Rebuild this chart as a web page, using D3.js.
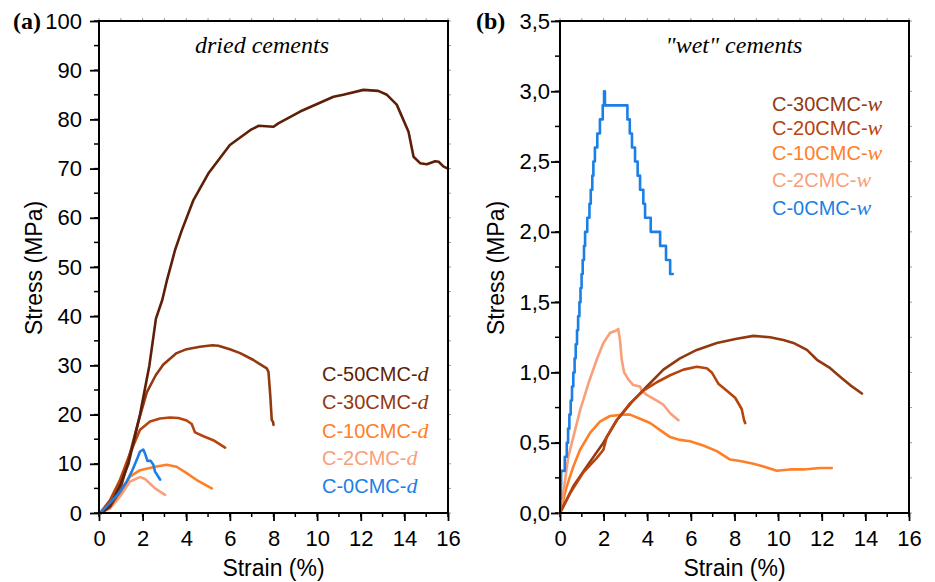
<!DOCTYPE html>
<html>
<head>
<meta charset="utf-8">
<script src="https://cdn.jsdelivr.net/npm/d3@7"></script>
<style>
  body { margin: 0; background: #fff; }
  text { font-family: "Liberation Sans", Arial, sans-serif; }
</style>
</head>
<body>
<svg width="935" height="582"></svg>
<script>
// strain (%) vs stress (MPa)
var dried50 = [[0.1,0],[0.5,1.5],[1.0,6],[1.35,10],[1.88,20],[2.31,30],[2.5,36],[2.61,39.5],[2.9,43.3],[3.12,47.4],[3.49,53.5],[3.8,57.5],[4.33,63.6],[5.01,69.0],[6.0,74.8],[6.93,77.8],[7.31,78.7],[8.0,78.5],[8.22,79.2],[9.22,81.6],[10.75,84.6],[11.2,85.0],[12.12,86.0],[12.8,85.8],[13.2,85.0],[13.65,83.0],[14.19,77.5],[14.42,72.4],[14.72,71.1],[15.03,70.9],[15.41,71.5],[15.57,71.4],[15.8,70.4],[16.0,70.0]];
var dried30 = [[0.1,0],[0.5,1.2],[0.96,4.5],[1.24,9],[1.77,18],[2.19,24.5],[2.6,28],[2.95,30.2],[3.56,32.5],[4.02,33.3],[4.63,33.8],[5.2,34.1],[5.47,34.0],[6.0,33.3],[6.47,32.5],[7.08,31.1],[7.69,29.4],[7.77,28.7],[7.85,24],[7.92,18.9],[7.98,18.5],[8.0,17.9]];
var dried20 = [[0.05,0],[0.5,2.6],[0.96,6.7],[1.42,12.1],[1.88,16.9],[2.34,18.6],[2.8,19.2],[3.26,19.4],[3.64,19.3],[4.02,18.8],[4.25,18.1],[4.4,16.4],[4.79,15.6],[5.24,14.8],[5.78,13.3]];
var dried10 = [[0.05,0],[0.5,1.3],[0.96,4.0],[1.42,7.4],[1.88,8.7],[2.57,9.4],[3.1,9.8],[3.56,9.4],[4.02,8.1],[4.48,6.7],[5.17,5.0]];
var dried2 = [[0.05,0],[0.5,0.9],[0.96,3.3],[1.42,6.4],[1.88,7.3],[2.11,6.9],[2.57,5.0],[3.03,3.7]];
var dried0 = [[0.05,0],[0.5,2.0],[0.96,4.3],[1.27,6.4],[1.5,8.4],[1.73,10.8],[1.88,12.5],[2.03,12.9],[2.11,12.1],[2.22,10.6],[2.37,10.6],[2.49,9.8],[2.57,8.4],[2.8,6.8]];

var wet30 = [[0,0],[0.61,0.19],[1.22,0.33],[1.99,0.5],[2.6,0.66],[3.3,0.79],[3.98,0.9],[4.74,1.02],[5.5,1.1],[6.27,1.16],[7.19,1.21],[8.1,1.24],[8.87,1.26],[9.63,1.25],[10.24,1.23],[10.7,1.21],[11.32,1.16],[11.78,1.09],[12.39,1.03],[12.84,0.97],[13.3,0.91],[13.84,0.85]];
var wet20 = [[0,0],[0.46,0.14],[1.07,0.29],[1.68,0.39],[1.99,0.45],[2.14,0.54],[2.6,0.66],[3.21,0.78],[3.82,0.87],[4.44,0.93],[5.05,0.98],[5.66,1.02],[6.27,1.04],[6.73,1.03],[6.96,1.0],[7.26,0.92],[7.65,0.87],[8.03,0.82],[8.33,0.74],[8.44,0.66],[8.49,0.64]];
var wet10 = [[0,0],[0.31,0.19],[0.61,0.33],[0.92,0.45],[1.38,0.57],[1.83,0.65],[2.29,0.69],[2.9,0.7],[3.21,0.7],[3.67,0.67],[4.13,0.64],[4.59,0.59],[5.05,0.54],[5.5,0.52],[5.96,0.51],[6.57,0.48],[7.19,0.44],[7.8,0.38],[8.26,0.37],[8.87,0.35],[9.33,0.33],[9.94,0.3],[10.55,0.31],[11.16,0.31],[11.93,0.32],[12.46,0.32]];
var wet2 = [[0.03,0.02],[0.23,0.23],[0.38,0.4],[0.61,0.54],[0.92,0.73],[1.3,0.92],[1.68,1.09],[1.99,1.21],[2.29,1.28],[2.6,1.3],[2.67,1.31],[2.75,1.23],[2.83,1.09],[2.94,1.0],[3.13,0.95],[3.36,0.91],[3.67,0.9],[3.75,0.87],[3.98,0.84],[4.44,0.8],[4.74,0.77],[5.05,0.71],[5.43,0.66]];
// C-0CMC-w is recorded in 0.1 MPa steps
var wet0 = [[0,0],[0.02,0.1],[0.04,0.2],[0.05,0.3],[0.22,0.4],[0.31,0.5],[0.37,0.6],[0.43,0.7],[0.49,0.8],[0.55,0.9],[0.61,1.0],[0.67,1.1],[0.72,1.2],[0.78,1.3],[0.83,1.4],[0.89,1.5],[0.94,1.6],[0.99,1.7],[1.04,1.8],[1.1,1.9],[1.15,2.0],[1.25,2.1],[1.35,2.2],[1.41,2.3],[1.48,2.4],[1.53,2.5],[1.6,2.6],[1.71,2.7],[1.83,2.8],[1.96,2.9],[2.02,3.0],[2.06,2.9],[3.09,2.8],[3.2,2.7],[3.3,2.6],[3.44,2.5],[3.56,2.4],[3.67,2.3],[3.82,2.2],[3.9,2.1],[4.16,2.0],[4.59,1.9],[4.86,1.8],[5.05,1.7],[5.17,1.7]];

var driedNames = ["C-50CMC-", "C-30CMC-", "C-10CMC-", "C-2CMC-", "C-0CMC-"];
var wetNames = ["C-30CMC-", "C-20CMC-", "C-10CMC-", "C-2CMC-", "C-0CMC-"];

var xTicks = [0, 2, 4, 6, 8, 10, 12, 14, 16];
var driedYTicks = [0, 10, 20, 30, 40, 50, 60, 70, 80, 90, 100];
var wetYTicks = [0, 0.5, 1.0, 1.5, 2.0, 2.5, 3.0, 3.5];

var c50 = "#5e1f08", c30 = "#93390f", c20 = "#b8440d", c10 = "#ff7f27", c2 = "#f9a07a", c0 = "#1c7fe6";

var svg = d3.select("svg");
var fmt = d3.format(".1f");

function panel(opt) {
  var x = d3.scaleLinear().domain([0, 16]).range([opt.left, opt.right]);
  var y = d3.scaleLinear().domain([0, opt.ymax]).range([513, 21]);
  var g = svg.append("g");

  // minor ticks
  var minorX = d3.range(0, 17, 1);
  var minorY = d3.range(0, opt.ymax + opt.ystep / 4, opt.ystep / 2);
  g.selectAll(".mx").data(minorX).enter().append("line")
    .attr("x1", x).attr("x2", x).attr("y1", 513).attr("y2", 517)
    .attr("stroke", "#000").attr("stroke-width", 1.5);
  g.selectAll(".my").data(minorY).enter().append("line")
    .attr("y1", y).attr("y2", y).attr("x1", opt.left - 5).attr("x2", opt.left)
    .attr("stroke", "#000").attr("stroke-width", 1.5);
  // faint ticks on top and right
  g.selectAll(".tx").data(minorX).enter().append("line")
    .attr("x1", x).attr("x2", x).attr("y1", 21).attr("y2", 18)
    .attr("stroke", "#999").attr("stroke-width", 1);
  g.selectAll(".ry").data(minorY).enter().append("line")
    .attr("y1", y).attr("y2", y).attr("x1", opt.right).attr("x2", opt.right + 3)
    .attr("stroke", "#999").attr("stroke-width", 1);

  var xAxis = g.append("g").attr("transform", "translate(0,513)")
    .call(d3.axisBottom(x).tickValues(xTicks).tickSize(8).tickPadding(9).tickFormat(d3.format("d")));
  var yAxis = g.append("g").attr("transform", "translate(" + opt.left + ",0)")
    .call(d3.axisLeft(y).tickValues(opt.yticks).tickSize(9).tickPadding(opt.ypad).tickFormat(opt.yfmt));
  [xAxis, yAxis].forEach(function (a) {
    a.select(".domain").remove();
    a.selectAll("line").attr("stroke-width", 1.8);
    a.selectAll("text").style("font-size", "22px").attr("fill", "#000");
  });

  // curves
  var line = d3.line().x(function (d) { return x(d[0]); }).y(function (d) { return y(d[1]); });
  opt.series.forEach(function (s) {
    g.append("path").datum(s.data)
      .attr("d", line.curve(s.step ? d3.curveStepAfter : d3.curveLinear))
      .attr("fill", "none").attr("stroke", s.color).attr("stroke-width", 2.6)
      .attr("stroke-linejoin", "round").attr("stroke-linecap", "round");
  });

  // frame
  g.append("rect").attr("x", opt.left).attr("y", 21)
    .attr("width", opt.right - opt.left).attr("height", 492)
    .attr("fill", "none").attr("stroke", "#000").attr("stroke-width", 2);

  // labels
  g.append("text").attr("x", (opt.left + opt.right) / 2).attr("y", 576)
    .attr("text-anchor", "middle").style("font-size", "23px").text("Strain (%)");
  g.append("text").attr("transform", "translate(" + opt.ylabX + ",268) rotate(-90)")
    .attr("text-anchor", "middle").style("font-size", "23px").text("Stress (MPa)");
  g.append("text").attr("x", opt.titleX).attr("y", 53).attr("text-anchor", "middle")
    .style("font-family", "'Liberation Serif', serif").style("font-style", "italic")
    .style("font-size", "24px").text(opt.title);
  g.append("text").attr("x", opt.tagX).attr("y", 29)
    .style("font-family", "'Liberation Serif', serif").style("font-weight", "bold")
    .style("font-size", "24px").text(opt.tag);

  // legend
  var leg = g.selectAll(".leg").data(opt.legend).enter().append("text")
    .attr("x", opt.legX).attr("y", function (d, i) { return opt.legY[i]; })
    .attr("fill", function (d) { return d.color; })
    .style("font-size", "20px");
  leg.append("tspan").text(function (d) { return d.name; });
  leg.append("tspan").style("font-family", "'Liberation Serif', serif")
    .style("font-style", "italic").style("font-size", "22px").text(opt.suffix);
}

panel({
  left: 99, right: 448, ymax: 100, ystep: 10, yticks: driedYTicks, ypad: 8,
  yfmt: d3.format("d"), ylabX: 42, title: "dried cements", titleX: 262,
  tag: "(a)", tagX: 13, suffix: "d",
  series: [
    { data: dried2, color: c2 }, { data: dried10, color: c10 }, { data: dried20, color: c20 },
    { data: dried30, color: c30 }, { data: dried50, color: c50 }, { data: dried0, color: c0 }
  ],
  legX: 322, legY: [381, 409, 438, 465, 493],
  legend: driedNames.map(function (n, i) { return { name: n, color: [c50, c30, c10, c2, c0][i] }; })
});

panel({
  left: 560, right: 909, ymax: 3.5, ystep: 0.5, yticks: wetYTicks, ypad: 1,
  yfmt: function (d) { return fmt(d).replace(".", ","); }, ylabX: 504, title: "\"wet\" cements", titleX: 734,
  tag: "(b)", tagX: 476, suffix: "w",
  series: [
    { data: wet10, color: c10 }, { data: wet2, color: c2 }, { data: wet30, color: c30 },
    { data: wet20, color: c20 }, { data: wet0, color: c0, step: true }
  ],
  legX: 772, legY: [111, 135, 160, 187, 215],
  legend: wetNames.map(function (n, i) { return { name: n, color: [c30, c20, c10, c2, c0][i] }; })
});
</script>
</body>
</html>
